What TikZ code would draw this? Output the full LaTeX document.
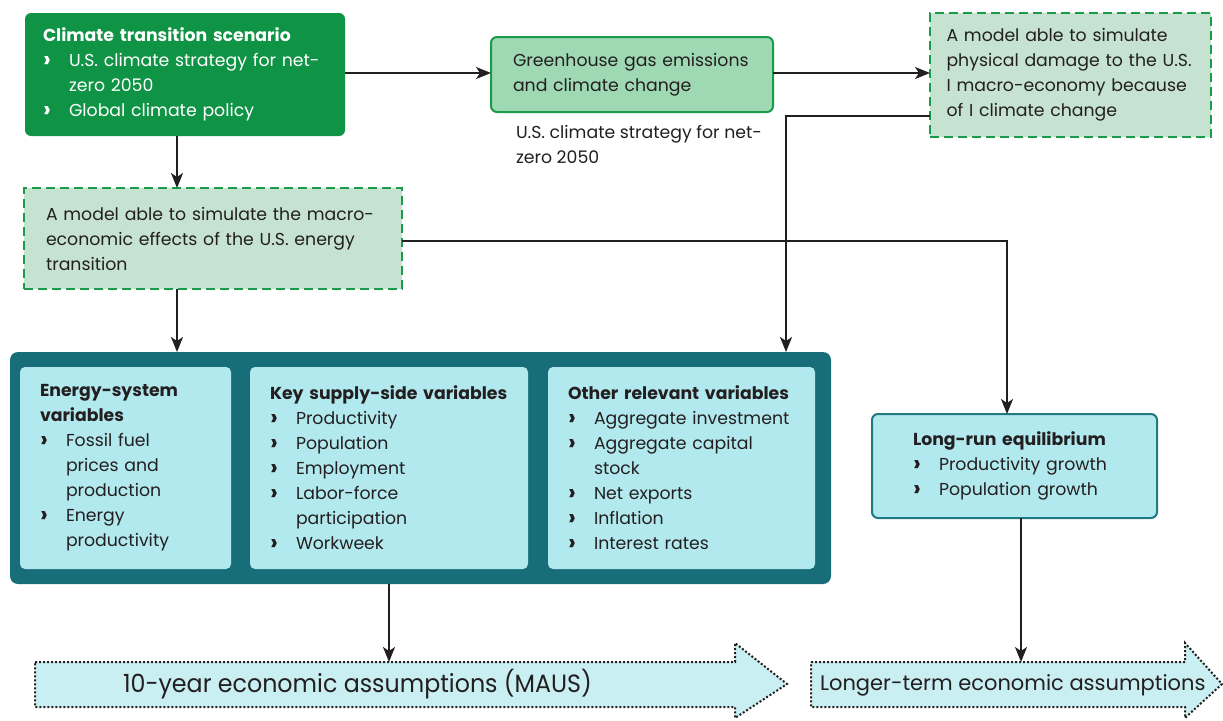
\documentclass[tikz,border=0pt]{standalone}
\usepackage{fontspec}
\setmainfont{Poppins}
\usepackage{graphicx}
\usetikzlibrary{arrows.meta}

\definecolor{scengreen}{HTML}{0F9345}
\definecolor{ghgfill}{HTML}{9FD9B4}
\definecolor{ghgline}{HTML}{1A9A4B}
\definecolor{modelfill}{HTML}{C5E3D0}
\definecolor{varteal}{HTML}{176E78}
\definecolor{varfill}{HTML}{B2E9EE}
\definecolor{lrline}{HTML}{1F7A82}
\definecolor{assumfill}{HTML}{C9EFF2}
\definecolor{linedark}{HTML}{231F20}

\newcommand{\bl}{\makebox[26pt][l]{\raisebox{-0.5pt}{\scalebox{1.35}{\bfseries\char"203A}}}}
\newcommand{\ind}{\hspace*{26pt}}

\begin{document}
\begin{tikzpicture}[x=1pt, y=-1pt,
    every node/.style={font=\fontsize{17.3}{25}\selectfont, text=linedark, outer sep=0pt},
    conn/.style={draw=linedark, line width=2pt, -{Stealth[length=15pt,width=12pt,inset=4pt]}},
    box/.style={anchor=north west, align=left, inner ysep=0pt, rounded corners=6pt},
    modelbox/.style={box, fill=modelfill, draw=ghgline, line width=2.2pt, dash pattern=on 9pt off 5pt, rounded corners=0pt},
    varbox/.style={box, fill=varfill, text width=171pt, inner xsep=20pt, minimum height=202pt, rounded corners=5pt},
    assum/.style={fill=assumfill, draw=linedark, line width=2pt, dotted}
    ]
    \useasboundingbox (0,0) rectangle (1223,720);

    % top row
    \node[box, fill=scengreen, text=white, text width=284pt, inner xsep=18pt, minimum height=123pt] (clim) at (25,13)
      {\textbf{Climate transition scenario}\\ \bl U.S. climate strategy for net-\\ \ind zero 2050\\ \bl Global climate policy};
    \node[box, fill=ghgfill, draw=ghgline, line width=2pt, text width=250pt, inner xsep=16pt, minimum height=75pt] (ghg) at (491,37)
      {\hspace*{6pt}Greenhouse gas emissions\\ \hspace*{6pt}and climate change};
    \node[anchor=north west, align=left, inner sep=0pt] (ghglbl) at (516,125)
      {U.S. climate strategy for net-\\ zero 2050};
    \node[modelbox, text width=256pt, inner xsep=12.5pt, minimum height=124pt] (dmg) at (930,13)
      {\hspace*{4pt}A model able to simulate\\ \hspace*{4pt}physical damage to the U.S.\\ \hspace*{4pt}I macro-economy because\\ \hspace*{4pt}of I climate change};
    \node[modelbox, text width=334pt, inner xsep=22pt, minimum height=101pt] (trans) at (24,188)
      {A model able to simulate the macro-\\ economic effects of the U.S. energy\\ transition};

    % variables
    \node[box, fill=varteal, minimum width=821pt, minimum height=232pt, rounded corners=8pt] (vars) at (10,352) {};
    \node[varbox] (energy) at (20,367)
      {\textbf{Energy-system}\\ \textbf{variables}\\ \bl Fossil fuel\\ \ind prices and\\ \ind production\\ \bl Energy\\ \ind productivity};
    \node[varbox, text width=238pt] (supply) at (250,367)
      {\textbf{Key supply-side variables}\\ \bl Productivity\\ \bl Population\\ \bl Employment\\ \bl Labor-force\\ \ind participation\\ \bl Workweek};
    \node[varbox, text width=227pt] (other) at (548,367)
      {\textbf{Other relevant variables}\\ \bl Aggregate investment\\ \bl Aggregate capital\\ \ind stock\\ \bl Net exports\\ \bl Inflation\\ \bl Interest rates};
    \node[box, fill=varfill, draw=lrline, line width=2pt, text width=203pt, inner xsep=41pt, minimum height=104pt] (lrun) at (872,414)
      {\textbf{Long-run equilibrium}\\ \bl Productivity growth\\ \bl Population growth};

    % assumptions
    \draw[assum] (35,662) -- (735,662) -- (735,643) -- (787,684) -- (735,718) -- (735,707) -- (35,707) -- cycle;
    \draw[assum] (811,662) -- (1185,662) -- (1185,643) -- (1222,684) -- (1185,718) -- (1185,707) -- (811,707) -- cycle;
    \coordinate (tentop) at (389,662);
    \coordinate (longtop) at (1021,662);
    \node[anchor=west, inner sep=0pt, font=\fontsize{25}{28}\selectfont] (tenyr) at (123,684)
      {\scalebox{0.95}[1]{10-year economic assumptions (MAUS)}};
    \node[anchor=west, inner sep=0pt, font=\fontsize{21}{24}\selectfont] (longer) at (820,685)
      {Longer-term economic assumptions};

    % connectors
    \draw[conn] (clim.east |- 0,73) -- (ghg.west |- 0,73);
    \draw[conn] (ghg.east |- 0,73) -- (dmg.west |- 0,73);
    \draw[conn] ([xshift=-8pt]clim.south) -- ([xshift=-8pt]clim.south |- trans.north);
    \draw[conn] ([yshift=-41pt]dmg.west) -| ([xshift=365.5pt]vars.north);
    \draw[conn] ([yshift=-2.5pt]trans.east) -| ([xshift=-7.5pt]lrun.north);
    \draw[conn] ([xshift=-36pt]trans.south) -- ([xshift=-36pt]trans.south |- vars.north);
    \draw[conn] ([xshift=-31.5pt]vars.south) -- (tentop);
    \draw[conn] ([xshift=6.5pt]lrun.south) -- (longtop);
  \end{tikzpicture}
\end{document}
